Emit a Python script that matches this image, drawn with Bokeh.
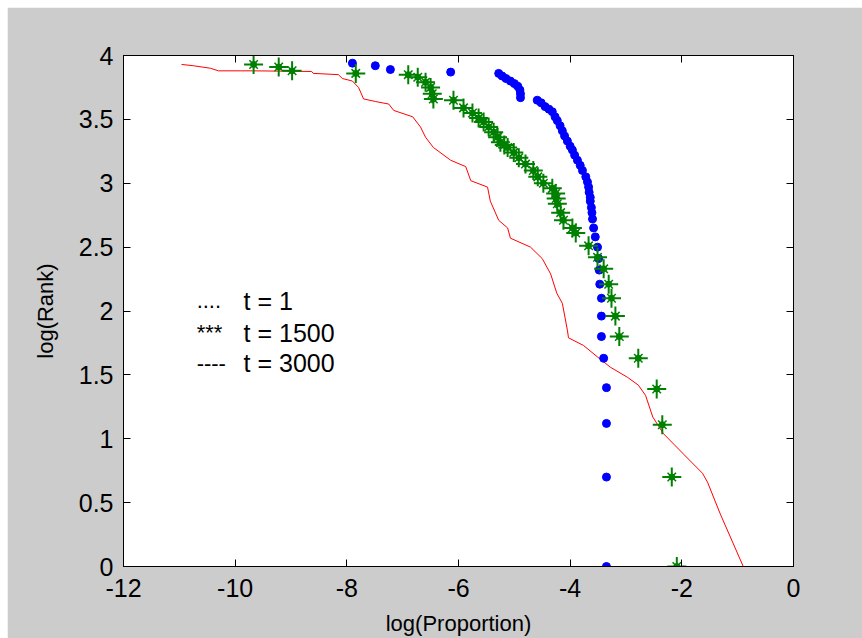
from bokeh.plotting import figure
from bokeh.models import LinearAxis, Label, CustomJSTickFormatter, FixedTicker, Range1d
from bokeh.embed import file_html
from bokeh.resources import INLINE

# t = 1 (blue dots)
x_t1 = [-7.90, -7.49, -7.22, -6.14,
        -5.28, -5.22, -5.15, -5.07, -5.00, -4.94, -4.90, -4.89, -4.89,
        -4.59, -4.52, -4.45, -4.38, -4.32, -4.27, -4.23, -4.18, -4.14, -4.10,
        -4.05, -4.00, -3.96, -3.92, -3.87, -3.82, -3.78, -3.72, -3.69, -3.67,
        -3.66, -3.64, -3.64, -3.62, -3.61, -3.60, -3.58, -3.55, -3.51, -3.49,
        -3.48, -3.47, -3.44, -3.44, -3.44, -3.40, -3.35, -3.35, -3.35, -3.35]
y_t1 = [3.94, 3.92, 3.89, 3.87,
        3.86, 3.84, 3.82, 3.80, 3.78, 3.76, 3.73, 3.70, 3.67,
        3.65, 3.63, 3.60, 3.58, 3.56, 3.52, 3.49, 3.45, 3.41, 3.37,
        3.33, 3.29, 3.26, 3.22, 3.18, 3.14, 3.10, 3.05, 3.01, 2.97,
        2.93, 2.89, 2.86, 2.81, 2.77, 2.72, 2.65, 2.58, 2.50, 2.41,
        2.32, 2.21, 2.10, 1.96, 1.80, 1.63, 1.40, 1.12, 0.70, 0.00]

# t = 1500 (green stars)
x_t1500 = [-9.67, -9.22, -8.98, -7.84, -6.90, -6.73, -6.59, -6.50, -6.47, -6.45,
           -6.09, -5.91, -5.75, -5.64, -5.55, -5.46, -5.37, -5.30, -5.25, -5.18,
           -5.12, -5.01, -4.92, -4.80, -4.66, -4.58, -4.48, -4.32, -4.26, -4.25,
           -4.23, -4.17, -4.12, -3.96, -3.90, -3.67, -3.51, -3.40, -3.31, -3.26,
           -3.19, -3.12, -2.78, -2.45, -2.35, -2.18, -2.09]
y_t1500 = [3.93, 3.91, 3.88, 3.86, 3.85, 3.83, 3.79, 3.75, 3.70, 3.66,
           3.65, 3.59, 3.55, 3.51, 3.48, 3.44, 3.40, 3.36, 3.32, 3.30,
           3.28, 3.24, 3.20, 3.15, 3.10, 3.05, 3.00, 2.96, 2.92, 2.88,
           2.84, 2.77, 2.71, 2.65, 2.61, 2.51, 2.42, 2.33, 2.21, 2.10,
           1.96, 1.80, 1.63, 1.39, 1.11, 0.70, 0.00]

# t = 3000 (red line)
x_t3000 = [-10.96, -10.75, -10.44, -10.30, -9.69, -8.63, -8.60, -8.15, -8.08, -7.90,
           -7.79, -7.70, -7.49, -7.25, -7.16, -6.82, -6.68, -6.59, -6.45, -6.14,
           -5.87, -5.78, -5.48, -5.43, -5.28, -5.12, -5.07, -4.71, -4.50, -4.35,
           -4.24, -4.14, -4.05, -4.03, -3.76, -3.51, -3.28, -2.97, -2.78, -2.65,
           -2.52, -2.33, -1.97, -1.63, -1.54, -1.31, -0.90]
y_t3000 = [3.93, 3.92, 3.90, 3.88, 3.88, 3.875, 3.86, 3.85, 3.82, 3.80,
           3.75, 3.66, 3.64, 3.62, 3.57, 3.52, 3.44, 3.36, 3.28, 3.18,
           3.13, 3.02, 2.97, 2.86, 2.71, 2.65, 2.57, 2.50, 2.41, 2.29,
           2.14, 2.06, 1.85, 1.79, 1.73, 1.64, 1.56, 1.48, 1.42, 1.34,
           1.17, 1.04, 0.88, 0.73, 0.66, 0.41, 0.00]

x_ticks = [-12, -10, -8, -6, -4, -2, 0]
x_tick_labels = ["-12", "-10", "-8", "-6", "-4", "-2", "0"]
y_ticks = [0, 0.5, 1, 1.5, 2, 2.5, 3, 3.5, 4]
y_tick_labels = ["0", "0.5", "1", "1.5", "2", "2.5", "3", "3.5", "4"]

legend_symbols = ["....", "***", "----"]
legend_texts = ["t = 1", "t = 1500", "t = 3000"]

FONT = "Liberation Sans"
FS = "25px"
FS_LABEL = "22px"

p = figure(width=855, height=631, output_backend="svg", toolbar_location=None,
           x_range=Range1d(-12, 0), y_range=Range1d(0, 4),
           min_border_left=116, min_border_right=69,
           min_border_top=48, min_border_bottom=72)
p.margin = (7, 0, 0, 7)
p.background_fill_color = "white"
p.border_fill_color = "#cccccc"
p.outline_line_color = "black"
p.outline_line_width = 1
p.grid.visible = False

def style_axis(ax, ticks, labels=None):
    ax.ticker = FixedTicker(ticks=ticks)
    ax.major_tick_in = 7
    ax.major_tick_out = 0
    ax.minor_tick_line_color = None
    ax.axis_line_color = "black"
    ax.major_tick_line_color = "black"
    if labels is None:
        ax.formatter = CustomJSTickFormatter(code="return ''")
        ax.major_label_standoff = 0
    else:
        ax.major_label_overrides = {t: l for t, l in zip(ticks, labels)}
        ax.major_label_text_font = FONT
        ax.major_label_text_font_size = FS
        ax.major_label_text_color = "black"

style_axis(p.xaxis[0], x_ticks, x_tick_labels)
style_axis(p.yaxis[0], y_ticks, y_tick_labels)
p.xaxis[0].major_label_standoff = 12
p.yaxis[0].major_label_standoff = 10

p.xaxis.axis_label = "log(Proportion)"
p.yaxis.axis_label = "log(Rank)"
for ax in (p.xaxis[0], p.yaxis[0]):
    ax.axis_label_text_font = FONT
    ax.axis_label_text_font_size = FS_LABEL
    ax.axis_label_text_font_style = "normal"
    ax.axis_label_text_color = "black"
p.xaxis[0].axis_label_standoff = 11
p.yaxis[0].axis_label_standoff = 18

top = LinearAxis()
right = LinearAxis()
style_axis(top, x_ticks)
style_axis(right, y_ticks)
p.add_layout(top, "above")
p.add_layout(right, "right")

# t = 3000 red line
p.line(x_t3000, y_t3000, line_color="#ff0000", line_width=1)

# t = 1 blue dots
p.scatter(x_t1, y_t1, marker="circle", size=8, fill_color="#0000ff",
          line_color="#0000ff")

# t = 1500 green stars
p.scatter(x_t1500, y_t1500, marker="cross", size=19, line_color="#008000", line_width=2)
p.scatter(x_t1500, y_t1500, marker="x", size=12, line_color="#008000", line_width=1.5)
p.scatter(x_t1500, y_t1500, marker="circle", size=6, fill_color="#008000",
          line_color="#008000")

# text legend
sym_y = [2.08, 1.83, 1.59]
for sym, txt, yy in zip(legend_symbols, legend_texts, sym_y):
    p.add_layout(Label(x=-10.69, y=yy, text=sym, text_font=FONT, text_font_size="22px",
                       text_baseline="middle", text_align="left", text_color="black"))
    p.add_layout(Label(x=-9.85, y=yy, text=txt, text_font=FONT, text_font_size=FS,
                       text_baseline="middle", text_align="left", text_color="black"))

open("out.html", "w").write(file_html(p, INLINE))
